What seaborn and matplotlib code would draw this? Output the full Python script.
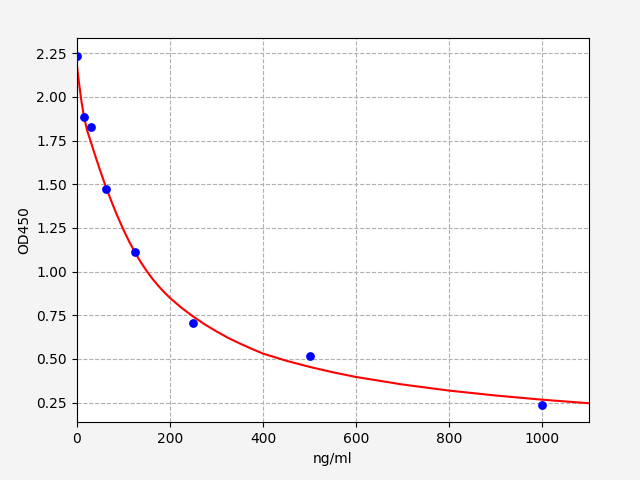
import numpy as np
import pandas as pd
import seaborn as sns
import matplotlib
matplotlib.use("Agg")
import matplotlib.pyplot as plt

# standard points
conc = [0, 15.6, 31.25, 62.5, 125, 250, 500, 1000]
od = [2.235, 1.884, 1.826, 1.472, 1.111, 0.705, 0.515, 0.237]

# fitted curve
curve_x = [0, 2, 5, 10, 15.6, 22, 31, 40, 50, 62.5, 75, 87.5, 100, 112.5,
           125, 137.5, 150, 162.5, 175, 187.5, 200, 225, 250, 275, 300, 325,
           350, 375, 400, 450, 500, 550, 600, 700, 800, 900, 1000, 1100]
curve_y = [2.19, 2.14, 2.075, 1.975, 1.885, 1.81, 1.735, 1.66, 1.58, 1.485,
           1.398, 1.316, 1.241, 1.172, 1.11, 1.054, 1.004, 0.959, 0.919,
           0.883, 0.850, 0.793, 0.743, 0.698, 0.658, 0.621, 0.589, 0.559,
           0.531, 0.490, 0.455, 0.424, 0.397, 0.354, 0.319, 0.291, 0.267,
           0.247]

pts = pd.DataFrame({"conc": conc, "od": od})
fit = pd.DataFrame({"x": curve_x, "y": curve_y})

fig, ax = plt.subplots(figsize=(6.4, 4.8), dpi=100)
fig.patch.set_facecolor("#f4f4f4")
fig.subplots_adjust(left=0.12, right=0.92, bottom=0.12, top=0.92)

sns.lineplot(data=fit, x="x", y="y", color="red", linewidth=1.5, sort=False, ax=ax)
sns.scatterplot(data=pts, x="conc", y="od", color="blue", s=40, linewidth=0, zorder=3, ax=ax)

ax.set_xlim(0, 1100)
ax.grid(True, linestyle="--", color="#b0b0b0")
ax.set_axisbelow(True)
ax.set_xlabel("ng/ml")
ax.set_ylabel("OD450")

fig.savefig("out.png", dpi=100, facecolor=fig.get_facecolor())
